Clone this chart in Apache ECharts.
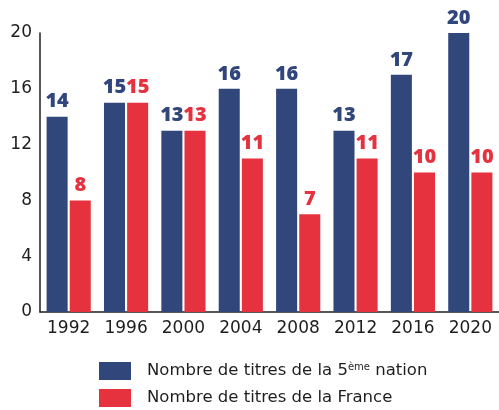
<!DOCTYPE html>
<html>
<head>
<meta charset="utf-8">
<script src="https://cdn.jsdelivr.net/npm/echarts@6/dist/echarts.min.js"></script>
<style>
  html, body { margin: 0; padding: 0; background: #fff; }
  #chart { width: 499px; height: 410px; }
</style>
</head>
<body>
<div id="chart"></div>
<script>
// données
const years = ['1992', '1996', '2000', '2004', '2008', '2012', '2016', '2020']
const titresNation5 = [14, 15, 13, 16, 16, 13, 17, 20]
const titresFrance = [8, 15, 13, 11, 7, 11, 10, 10]
const yTicks = [0, 4, 8, 12, 16, 20]

const BLUE = '#31467a'
const RED = '#e5323e'
const FONT = '"Open Sans", "DejaVu Sans", sans-serif'
const FONT_AXIS = '"DejaVu Sans", sans-serif'

const chart = echarts.init(document.getElementById('chart'))

const labelStyle = (color) => ({
  show: true,
  position: 'top',
  distance: 5,
  color: color,
  fontFamily: FONT,
  fontWeight: 800,
  fontSize: 20
})

chart.setOption({
  animation: false,
  grid: { left: 40, right: -1, top: 33, bottom: 98, containLabel: false },
  legend: {
    orient: 'vertical',
    left: 99,
    top: 362,
    padding: 0,
    itemWidth: 32,
    itemHeight: 18,
    itemGap: 9,
    icon: 'rect',
    textStyle: {
      fontFamily: FONT_AXIS,
      fontSize: 16.5,
      color: '#1e1e1e',
      padding: [0, 0, 0, 11],
      rich: {
        a: { fontFamily: FONT_AXIS, fontSize: 16.5, color: '#1e1e1e' },
        sup: { fontFamily: FONT_AXIS, fontSize: 10, color: '#1e1e1e', verticalAlign: 'top', padding: [0, 0, 8, 0] }
      }
    },
    formatter: (name) => {
      if (name.indexOf('5ème') >= 0) return '{a|Nombre de titres de la 5}{sup|ème}{a| nation}'
      return '{a|' + name + '}'
    }
  },
  xAxis: {
    type: 'category',
    data: years,
    axisLine: { lineStyle: { color: '#1e1e1e', width: 1.5 } },
    axisTick: { inside: true, length: 7, lineStyle: { color: '#1e1e1e' } },
    axisLabel: { fontFamily: FONT_AXIS, fontSize: 17, color: '#1e1e1e', margin: 8 }
  },
  yAxis: {
    type: 'value',
    min: yTicks[0],
    max: yTicks[yTicks.length - 1],
    interval: 4,
    axisLine: { show: true, lineStyle: { color: '#1e1e1e', width: 1.5 } },
    axisTick: { show: false },
    splitLine: { show: false },
    axisLabel: { fontFamily: FONT_AXIS, fontSize: 17, color: '#1e1e1e', margin: 8 }
  },
  series: [
    {
      name: 'Nombre de titres de la 5ème nation',
      type: 'bar',
      data: titresNation5,
      itemStyle: { color: BLUE, borderWidth: 0 },
      barGap: '10%',
      barCategoryGap: '23%',
      label: labelStyle(BLUE)
    },
    {
      name: 'Nombre de titres de la France',
      type: 'bar',
      data: titresFrance,
      itemStyle: { color: RED, borderWidth: 0 },
      label: labelStyle(RED)
    }
  ]
})
</script>
</body>
</html>
